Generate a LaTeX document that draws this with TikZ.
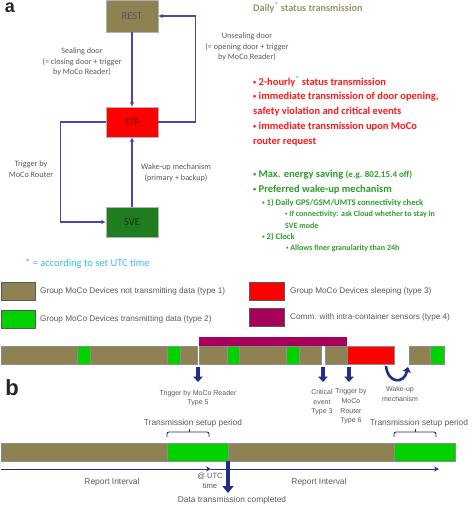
\documentclass[tikz,border=0pt]{standalone}
\usepackage{fontspec}
\setmainfont{Carlito}
\newfontfamily\arialf{Liberation Sans}
\usetikzlibrary{arrows.meta}
\newcommand{\bul}{\raisebox{0.12em}{\scalebox{0.6}{•}}}
\definecolor{olv}{HTML}{8E8152}
\definecolor{grn}{HTML}{00D200}
\definecolor{redc}{HTML}{FF0000}
\definecolor{mar}{HTML}{A6005A}
\definecolor{sveg}{HTML}{1F7D1F}
\definecolor{connb}{HTML}{4848B4}
\definecolor{navy}{HTML}{1F2E8C}
\definecolor{txtg}{HTML}{5A5A5A}
\definecolor{txtred}{HTML}{FF1A1A}
\definecolor{txtgrn}{HTML}{2E9E2E}
\definecolor{ttlolv}{HTML}{9C9466}
\definecolor{cyanc}{HTML}{38BDF0}
\tikzset{
  statebox/.style={draw=gray!60, minimum width=52pt, inner sep=0pt, font=\fontsize{10.5}{12}\selectfont},
  conn/.style={draw=connb, line width=1.1pt, -{Latex[length=4.5pt,width=4.5pt]}},
  slabel/.style={align=center, text=txtg, font=\fontsize{8.2}{10.8}\selectfont, inner sep=0pt},
  redtxt/.style={anchor=west, text=txtred, font=\bfseries\fontsize{10.5}{12}\selectfont, inner sep=0pt},
  grntxt/.style={anchor=west, text=txtgrn, font=\bfseries\fontsize{10.5}{12}\selectfont, inner sep=0pt},
  grntxtb/.style={anchor=west, text=txtgrn, font=\bfseries\fontsize{8.6}{10}\selectfont, inner sep=0pt},
  grntxtc/.style={anchor=west, text=txtgrn, font=\bfseries\fontsize{8}{10}\selectfont, inner sep=0pt},
  legbox/.style={draw=gray!70!black, line width=0.4pt},
  legtxt/.style={anchor=west, text=txtg, font=\arialf\fontsize{8.2}{10}\selectfont, inner sep=0pt},
  seg/.style={draw=black!45, line width=0.4pt},
  btxt/.style={align=center, text=txtg, font=\arialf\fontsize{7}{9.6}\selectfont, inner sep=0pt},
  btxtl/.style={align=center, text=txtg, font=\arialf\fontsize{8.4}{10}\selectfont, inner sep=0pt},
  thickarr/.style={draw=navy, line width=3.5pt, -{Triangle[width=9.5pt,length=5.5pt]}},
  panellbl/.style={font=\arialf\bfseries, inner sep=0pt, text=black!85},
}
\begin{document}
\begin{tikzpicture}[x=1pt,y=-1pt]
\useasboundingbox (0,0) rectangle (472,507);
\fill[white] (0,0) rectangle (472,507);

% panel labels
\node[panellbl, font=\arialf\bfseries\fontsize{18}{18}\selectfont] (la) at (10,8) {a};
\node[panellbl, font=\arialf\bfseries\fontsize{22}{22}\selectfont] (lb) at (12,388) {b};

% state boxes
\node[statebox, fill=olv, minimum height=32pt, text=black!65] (rest) at (132,16) {REST};
\node[statebox, fill=redc, minimum height=30pt, text=red!45!black] (stp) at (132,122) {STP};
\node[statebox, fill=sveg, minimum height=30pt, text=black!55!sveg] (sve) at (132,222) {SVE};

% connectors
\draw[conn] (rest) -- (stp);
\draw[conn] (stp.east) -- ++(37,0) |- (rest.east);
\draw[conn] (stp.west) -- ++(-45,0) |- (sve.west);
\draw[conn] (sve) -- (stp);

% connector labels
\node[slabel] (l1) at (82,62) {Sealing door\\(= closing door + trigger\\by MoCo Reader)};
\node[slabel] (l2) at (247,47) {Unsealing door\\(= opening door + trigger\\by MoCo Reader)};
\node[slabel] (l3) at (31,169.5) {Trigger by\\MoCo Router};
\node[slabel] (l4) at (176,173) {Wake-up mechanism\\(primary + backup)};

% title
\node[anchor=west, inner sep=0pt, text=ttlolv, font=\bfseries\fontsize{10.2}{12}\selectfont] (ttl) at (253,8) {Daily\textsuperscript{\textcolor{cyanc}{*}} status transmission};

% red bullets
\node[redtxt] (r1) at (253,82) {\bul{} 2-hourly\textsuperscript{\textcolor{cyanc}{*}} status transmission};
\node[redtxt] (r2) at (253,97) {\bul{} immediate transmission of door opening,};
\node[redtxt] (r3) at (253,112) {safety violation and critical events};
\node[redtxt] (r4) at (253,127) {\bul{} immediate transmission upon MoCo};
\node[redtxt] (r5) at (253,142) {router request};

% green bullets
\node[grntxt] (g1) at (253,175) {\bul{} Max. energy saving {\fontsize{9}{10}\selectfont (e.g. 802.15.4 off)}};
\node[grntxt] (g2) at (253,190) {\bul{} Preferred wake-up mechanism};
\node[grntxtb] (g3) at (262,203) {\bul{} 1) Daily GPS/GSM/UMTS connectivity check};
\node[grntxtc] (g4) at (285,214.5) {\bul{} If connectivity: ask Cloud whether to stay in};
\node[grntxtc] (g5) at (285,226) {SVE mode};
\node[grntxtb] (g6) at (262,237) {\bul{} 2) Clock};
\node[grntxtc] (g7) at (286,248) {\bul{} Allows finer granularity than 24h};

% UTC note
\node[anchor=west, inner sep=0pt, text=cyanc, font=\fontsize{10.5}{12}\selectfont] (utc) at (25,264) {* = according to set UTC time};

% legend
\draw[legbox, fill=olv] (1,282) rectangle (35,300);
\node[legtxt] (t1) at (40,291) {Group MoCo Devices not transmitting data (type 1)};
\draw[legbox, fill=grn] (1,310) rectangle (35,328);
\node[legtxt] (t2) at (40,319) {Group MoCo Devices transmitting data (type 2)};
\draw[legbox, fill=redc] (249,282) rectangle (284,300);
\node[legtxt] (t3) at (290,291) {Group MoCo Devices sleeping (type 3)};
\draw[legbox, fill=mar] (249,308) rectangle (284,326);
\node[legtxt] (t4) at (290,317) {Comm. with intra-container sensors (type 4)};

% timeline 1
\fill[mar] (199,337) rectangle (347,346);
\foreach \a/\b/\c in {1/77/olv, 77/90/grn, 90/167/olv, 167/180/grn, 180/197/olv,
  199/227/olv, 227/239/grn, 239/286/olv, 286/299/grn, 299/321/olv,
  325/347/olv, 347/394/redc, 409/430/olv, 430/444/grn}
  \draw[seg, fill=\c] (\a,346) rectangle (\b,364);

\coordinate (a1s) at (198,367);
\coordinate (a1e) at (198,382);
\coordinate (a2s) at (323,367);
\coordinate (a2e) at (323,382);
\coordinate (a3s) at (349,367);
\coordinate (a3e) at (349,382);
\draw[thickarr] (a1s) -- (a1e);
\draw[thickarr] (a2s) -- (a2e);
\draw[thickarr] (a3s) -- (a3e);
\coordinate (wus) at (386,366);
\coordinate (wue) at (408,367);
\draw[draw=navy, line width=2.6pt, -{Triangle[width=8pt,length=5pt]}] (wus) .. controls (388,384) and (404,384) .. (wue);

\node[btxt] (b1) at (198,398) {Trigger by MoCo Reader\\Type 5};
\node[btxt] (b2) at (322,402.5) {Critical\\event\\Type 3};
\node[btxt] (b3) at (351,406.5) {Trigger by\\MoCo\\Router\\Type 6};
\node[btxt] (b4) at (400,394) {Wake-up\\mechanism};

% timeline 2
\foreach \a/\b/\c in {1/167/olv, 167/228/grn, 228/394/olv, 394/455/grn}
  \draw[seg, fill=\c] (\a,443) rectangle (\b,461);

\node[btxtl] (ts1) at (193,423) {Transmission setup period};
\node[btxtl] (ts2) at (419,423) {Transmission setup period};
\draw[navy, line width=0.9pt, rounded corners=2pt] (167,437) -- (167,432) -- (209,432) -- (209,437);
\draw[navy, line width=0.9pt] (189,432) -- (189,428.5);
\draw[navy, line width=0.9pt, rounded corners=2pt] (394,437) -- (394,432) -- (436,432) -- (436,437);
\draw[navy, line width=0.9pt] (415,432) -- (415,428.5);

\coordinate (ri0) at (1,469);
\coordinate (ri1) at (211,469);
\coordinate (ri2) at (439,469);
\draw[navy, line width=0.9pt, -{Stealth[length=5pt,width=5pt]}] (ri0) -- (ri1);
\draw[navy, line width=0.9pt, -{Stealth[length=5pt,width=5pt]}] (ri1) -- (ri2);

\coordinate (dts) at (228,461);
\coordinate (dte) at (228,493);
\draw[draw=navy, line width=4.6pt, -{Triangle[width=11pt,length=7pt]}] (dts) -- (dte);

\node[btxtl] (rl1) at (112,482) {Report Interval};
\node[btxtl] (rl2) at (319,482) {Report Interval};
\node[btxt, font=\arialf\fontsize{7.6}{10}\selectfont] (at) at (210,481) {@ UTC\\time};
\node[btxtl] (dtc) at (232,500) {Data transmission completed};
\end{tikzpicture}
\end{document}
